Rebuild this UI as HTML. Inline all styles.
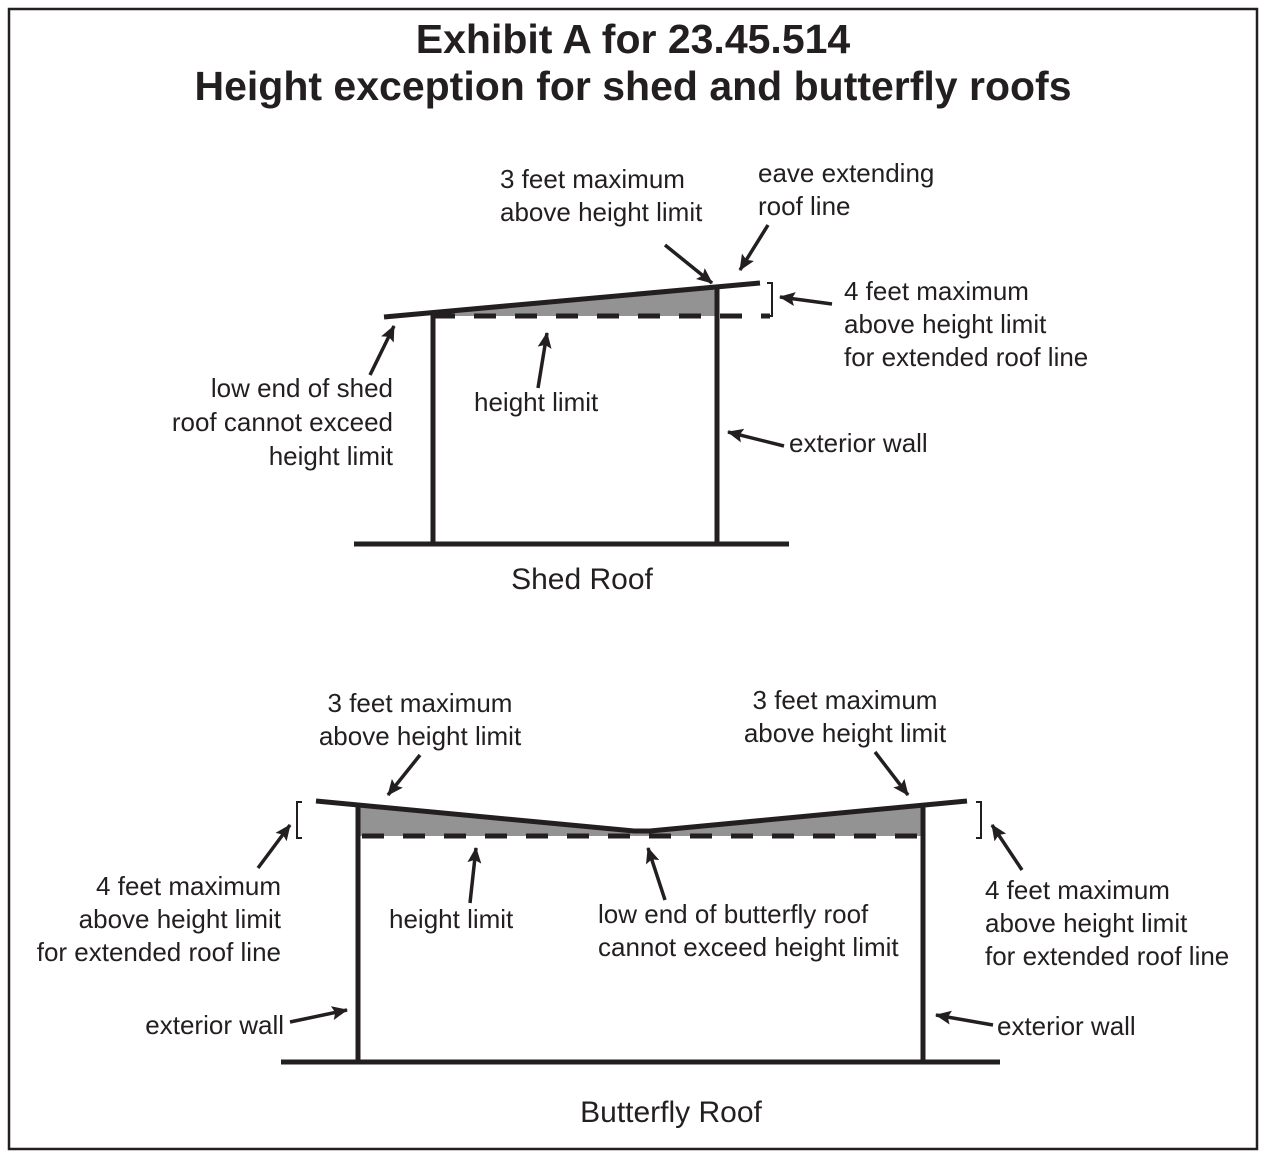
<!DOCTYPE html>
<html><head><meta charset="utf-8"><style>
html,body{margin:0;padding:0;background:#fff;}
svg{display:block;}
text{font-family:"Liberation Sans",sans-serif;fill:#231f20;font-size:26px;}
text.t{font-size:41px;font-weight:bold;}
text.c{font-size:30px;}
</style></head><body>
<svg width="1273" height="1155" viewBox="0 0 1273 1155" xmlns="http://www.w3.org/2000/svg">
<defs>
<marker id="a" markerWidth="16" markerHeight="14" refX="15" refY="7" orient="auto" markerUnits="userSpaceOnUse" viewBox="0 0 16 14">
<path d="M0,0 L16,7 L0,14 L3,7 Z" fill="#231f20"/>
</marker>
</defs>
<rect x="9" y="9" width="1248" height="1140" fill="#fff" stroke="#231f20" stroke-width="2.5"/>
<text class="t" x="633" y="53" text-anchor="middle">Exhibit A for 23.45.514</text>
<text class="t" x="633" y="100" text-anchor="middle">Height exception for shed and butterfly roofs</text>

<g stroke="#231f20" fill="none">
<polygon points="433,313 717,287 717,316 433,316" fill="#939393" stroke="none"/>
<line x1="433" y1="316" x2="770" y2="316" stroke-width="5" stroke-dasharray="22,19"/>
<line x1="384" y1="317" x2="760" y2="283" stroke-width="5"/>
<line x1="433" y1="314" x2="433" y2="544" stroke-width="5"/>
<line x1="717" y1="287" x2="717" y2="544" stroke-width="5"/>
<line x1="354" y1="544" x2="789" y2="544" stroke-width="5"/>
<path d="M767,283 H772 V316 H767" stroke-width="2"/>
<g stroke-width="3.5" marker-end="url(#a)">
<line x1="665" y1="245" x2="712" y2="283"/>
<line x1="768" y1="225" x2="740" y2="270"/>
<line x1="832" y1="304" x2="780" y2="297"/>
<line x1="370" y1="375" x2="394" y2="326"/>
<line x1="538" y1="388" x2="547" y2="333"/>
<line x1="784" y1="446" x2="728" y2="432"/>
</g>
<polygon points="358,806 640,832 923,806 923,836 358,836" fill="#939393" stroke="none"/>
<line x1="358" y1="836" x2="923" y2="836" stroke-width="5" stroke-dasharray="22,19" stroke-dashoffset="-4"/>
<polyline points="316,801 634,831 650,831 967,801" stroke-width="5"/>
<line x1="358" y1="805" x2="358" y2="1062" stroke-width="5"/>
<line x1="923" y1="805" x2="923" y2="1062" stroke-width="5"/>
<line x1="281" y1="1062" x2="1000" y2="1062" stroke-width="5"/>
<path d="M302,802 H297 V838 H302" stroke-width="2"/>
<path d="M976,802 H981 V838 H976" stroke-width="2"/>
<g stroke-width="3.5" marker-end="url(#a)">
<line x1="420" y1="755" x2="388" y2="795"/>
<line x1="875" y1="752" x2="908" y2="795"/>
<line x1="258" y1="868" x2="290" y2="825"/>
<line x1="1022" y1="870" x2="992" y2="825"/>
<line x1="470" y1="903" x2="476" y2="848"/>
<line x1="665" y1="900" x2="648" y2="848"/>
<line x1="290" y1="1022" x2="347" y2="1010"/>
<line x1="993" y1="1025" x2="936" y2="1015"/>
</g>
</g>

<text x="500" y="188">3 feet maximum</text>
<text x="500" y="221">above height limit</text>
<text x="758" y="182">eave extending</text>
<text x="758" y="215">roof line</text>
<text x="844" y="300">4 feet maximum</text>
<text x="844" y="333">above height limit</text>
<text x="844" y="366">for extended roof line</text>
<text x="393" y="397" text-anchor="end">low end of shed</text>
<text x="393" y="431" text-anchor="end">roof cannot exceed</text>
<text x="393" y="465" text-anchor="end">height limit</text>
<text x="474" y="411">height limit</text>
<text x="789" y="452">exterior wall</text>
<text class="c" x="582" y="589" text-anchor="middle">Shed Roof</text>

<text x="420" y="712" text-anchor="middle">3 feet maximum</text>
<text x="420" y="745" text-anchor="middle">above height limit</text>
<text x="845" y="709" text-anchor="middle">3 feet maximum</text>
<text x="845" y="742" text-anchor="middle">above height limit</text>
<text x="281" y="895" text-anchor="end">4 feet maximum</text>
<text x="281" y="928" text-anchor="end">above height limit</text>
<text x="281" y="961" text-anchor="end">for extended roof line</text>
<text x="985" y="899">4 feet maximum</text>
<text x="985" y="932">above height limit</text>
<text x="985" y="965">for extended roof line</text>
<text x="389" y="928">height limit</text>
<text x="598" y="923">low end of butterfly roof</text>
<text x="598" y="956">cannot exceed height limit</text>
<text x="284" y="1034" text-anchor="end">exterior wall</text>
<text x="997" y="1035">exterior wall</text>
<text class="c" x="671" y="1122" text-anchor="middle">Butterfly Roof</text>
</svg>
</body></html>
